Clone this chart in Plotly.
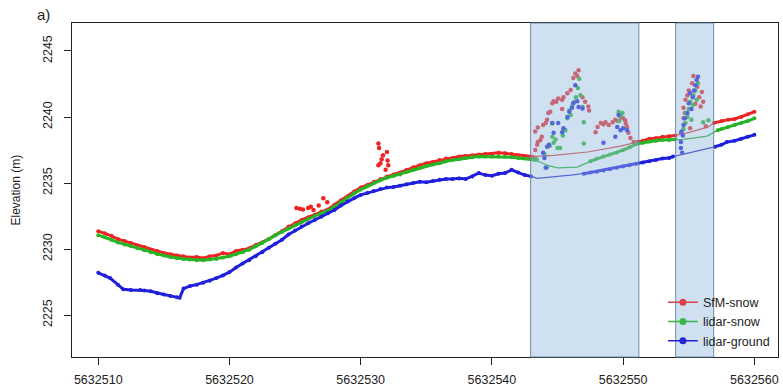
import plotly.graph_objects as go

# Easting origin; all x values below are offsets (m) from it
E0 = 5632510.0

# ---------------- SfM-snow ----------------
sfm_profile = [
    [(0.0, 2231.35), (0.5, 2231.2), (1.0, 2231.0), (1.5, 2230.75), (2.0, 2230.6), (2.5, 2230.45),
     (3.0, 2230.25), (3.5, 2230.15), (4.0, 2229.95), (4.5, 2229.85), (5.0, 2229.7), (5.5, 2229.6),
     (6.0, 2229.5), (6.5, 2229.45), (7.0, 2229.35), (7.5, 2229.4), (8.0, 2229.3), (8.5, 2229.45),
     (9.0, 2229.5), (9.5, 2229.7), (10.0, 2229.6), (10.5, 2229.85), (11.0, 2229.95), (11.5, 2230.05),
     (12.0, 2230.3), (12.5, 2230.5), (13.0, 2230.75), (13.5, 2231.05), (14.0, 2231.35), (14.5, 2231.7),
     (15.0, 2231.95), (15.5, 2232.2), (16.0, 2232.4), (16.5, 2232.6), (17.0, 2232.85), (17.5, 2233.0),
     (18.0, 2233.35), (18.5, 2233.7), (19.0, 2234.0), (19.5, 2234.35), (20.0, 2234.65), (20.5, 2234.85),
     (21.0, 2235.1), (21.5, 2235.3), (22.0, 2235.5), (22.5, 2235.65), (23.0, 2235.8), (23.5, 2236.0),
     (24.0, 2236.2), (24.5, 2236.35), (25.0, 2236.5), (25.5, 2236.6), (26.0, 2236.75), (26.5, 2236.85),
     (27.0, 2236.9), (27.5, 2237.0), (28.0, 2237.05), (28.5, 2237.1), (29.0, 2237.15), (29.5, 2237.2),
     (30.0, 2237.2), (30.5, 2237.3), (31.0, 2237.25), (31.5, 2237.2), (32.0, 2237.1), (32.5, 2237.05),
     (33.0, 2237.0)],
    [(41.2, 2238.1), (41.5, 2238.2), (42.0, 2238.35), (42.5, 2238.4), (43.0, 2238.5), (43.5, 2238.55),
     (44.0, 2238.6)],
    [(46.9, 2239.55), (47.5, 2239.7), (48.0, 2239.8), (48.5, 2239.85), (49.0, 2240.0), (49.5, 2240.2),
     (50.0, 2240.4)],
]
sfm_line_nodes = [(34.7, 2237.1), (37.3, 2237.35), (39.8, 2237.8), (45.1, 2238.85), (46.5, 2239.25)]
sfm_outliers = [
    (15.1, 2233.1), (15.35, 2233.05), (15.6, 2233.0), (16.0, 2233.1), (16.2, 2233.2), (16.4, 2232.95),
    (16.8, 2233.3), (17.15, 2233.85), (17.45, 2233.55),
    (21.35, 2238.0), (21.4, 2237.65), (22.0, 2237.35), (21.7, 2237.1), (21.5, 2236.5), (21.35, 2236.35),
    (22.1, 2236.35), (21.9, 2236.0), (21.6, 2236.8), (22.05, 2236.7),
    (33.15, 2236.95), (33.3, 2237.5), (33.45, 2237.9), (33.5, 2238.1), (33.3, 2238.9), (33.5, 2239.2),
    (33.7, 2238.25), (33.8, 2238.5), (33.9, 2239.4), (34.1, 2239.55), (34.2, 2239.8), (34.3, 2240.3),
    (34.45, 2240.4), (34.6, 2241.05), (34.7, 2241.2), (34.9, 2241.15), (35.05, 2241.4), (35.35, 2241.3),
    (35.45, 2241.5), (35.75, 2241.8), (36.0, 2242.05), (36.2, 2242.95), (36.35, 2243.3), (36.6, 2243.55),
    (36.5, 2243.1), (36.9, 2241.5), (37.1, 2241.15), (37.35, 2240.8), (37.4, 2240.5), (35.35, 2240.6),
    (37.9, 2238.85), (38.05, 2239.25), (38.3, 2239.55), (38.5, 2239.45), (38.65, 2239.6), (38.9, 2239.4),
    (39.2, 2239.6), (39.4, 2239.8), (39.6, 2239.7), (39.8, 2240.0), (40.0, 2239.9), (40.15, 2239.75),
    (40.2, 2239.5), (40.3, 2239.25), (40.4, 2238.8), (40.55, 2238.4), (40.8, 2238.1), (41.1, 2238.1),
    (45.35, 2243.1), (45.25, 2242.55), (44.9, 2241.65), (44.75, 2241.3), (44.6, 2240.7), (44.6, 2239.9),
    (46.0, 2241.9), (46.1, 2241.15), (45.65, 2242.3), (45.1, 2239.15), (44.4, 2238.8), (45.5, 2241.0),
    (45.8, 2241.5), (45.0, 2242.0), (44.7, 2240.3), (46.3, 2239.3), (45.9, 2240.8),
]

# ---------------- lidar-snow ----------------
snow_profile = [
    [(0.0, 2231.05), (0.5, 2230.9), (1.0, 2230.7), (1.5, 2230.5), (2.0, 2230.35), (2.5, 2230.2),
     (3.0, 2230.05), (3.5, 2229.9), (4.0, 2229.75), (4.5, 2229.6), (5.0, 2229.5), (5.5, 2229.4),
     (6.0, 2229.3), (6.5, 2229.25), (7.0, 2229.2), (7.5, 2229.15), (8.0, 2229.15), (8.5, 2229.2),
     (9.0, 2229.25), (9.5, 2229.35), (10.0, 2229.45), (10.5, 2229.6), (11.0, 2229.75), (11.5, 2229.95),
     (12.0, 2230.2), (12.5, 2230.45), (13.0, 2230.75), (13.5, 2231.05), (14.0, 2231.3), (14.5, 2231.55),
     (15.0, 2231.8), (15.5, 2232.05), (16.0, 2232.3), (16.5, 2232.5), (17.0, 2232.7), (17.5, 2232.9),
     (18.0, 2233.2), (18.5, 2233.55), (19.0, 2233.9), (19.5, 2234.2), (20.0, 2234.5), (20.5, 2234.75),
     (21.0, 2235.0), (21.5, 2235.2), (22.0, 2235.4), (22.5, 2235.55), (23.0, 2235.65), (23.5, 2235.85),
     (24.0, 2236.0), (24.5, 2236.15), (25.0, 2236.3), (25.5, 2236.4), (26.0, 2236.5), (26.5, 2236.65),
     (27.0, 2236.75), (27.5, 2236.8), (28.0, 2236.9), (28.5, 2236.95), (29.0, 2237.0), (29.5, 2237.0),
     (30.0, 2237.0), (30.5, 2237.0), (31.0, 2237.0), (31.5, 2236.95), (32.0, 2236.9), (32.5, 2236.85),
     (33.0, 2236.8), (33.3, 2236.75)],
    [(37.5, 2236.65), (38.0, 2236.85), (38.5, 2237.0), (39.0, 2237.15), (39.5, 2237.3), (40.0, 2237.5),
     (40.5, 2237.7), (41.0, 2237.95), (41.5, 2238.05), (42.0, 2238.15), (42.5, 2238.2), (43.0, 2238.25),
     (43.5, 2238.25), (44.0, 2238.3)],
    [(47.2, 2239.0), (47.5, 2239.1), (48.0, 2239.25), (48.5, 2239.4), (49.0, 2239.55), (49.5, 2239.7),
     (50.0, 2239.9)],
]
snow_line_nodes = [(34.2, 2236.35), (35.0, 2236.15), (36.5, 2236.2), (44.6, 2238.3), (46.4, 2238.55),
                   (46.9, 2238.85)]
snow_outliers = [
    (33.4, 2236.8), (34.2, 2236.2), (34.0, 2237.2), (34.4, 2237.8), (34.6, 2238.5), (34.6, 2239.5),
    (34.7, 2238.05), (34.85, 2238.3), (35.0, 2237.65), (35.2, 2237.65), (35.4, 2238.6), (35.6, 2239.0),
    (35.75, 2239.9), (35.9, 2240.5), (36.0, 2240.15), (36.1, 2240.8), (36.2, 2241.05), (36.3, 2241.15),
    (36.4, 2241.5), (36.55, 2242.2), (36.65, 2242.9), (36.75, 2241.65), (36.9, 2240.75), (37.0, 2239.6),
    (37.0, 2238.0), (39.65, 2240.4), (39.95, 2240.3), (39.8, 2240.1), (39.7, 2239.7),
    (45.7, 2242.55), (45.35, 2241.65), (45.1, 2241.15), (45.0, 2240.6), (44.9, 2240.0), (44.75, 2239.55),
    (44.6, 2239.1), (46.1, 2239.6), (46.5, 2239.75), (45.3, 2240.9), (44.8, 2240.3), (45.5, 2242.0),
    (45.6, 2241.3), (45.2, 2239.8),
]

# ---------------- lidar-ground ----------------
ground_profile = [
    [(0.0, 2228.2), (0.5, 2228.0), (0.9, 2227.8), (1.5, 2227.3), (1.9, 2226.95), (2.5, 2226.9),
     (3.2, 2226.9), (3.5, 2226.85), (4.0, 2226.8), (4.5, 2226.65), (5.0, 2226.55), (5.5, 2226.45),
     (6.0, 2226.35), (6.2, 2226.3), (6.5, 2227.0), (7.0, 2227.2), (7.5, 2227.3), (8.0, 2227.45),
     (8.5, 2227.6), (9.0, 2227.8), (9.5, 2228.0), (10.0, 2228.25), (10.5, 2228.6), (11.0, 2228.9),
     (11.5, 2229.15), (12.0, 2229.45), (12.5, 2229.75), (13.0, 2230.1), (13.5, 2230.4), (14.0, 2230.7),
     (14.5, 2231.1), (15.0, 2231.4), (15.5, 2231.7), (16.0, 2231.95), (16.5, 2232.2), (17.0, 2232.45),
     (17.5, 2232.7), (18.0, 2232.95), (18.5, 2233.3), (19.0, 2233.6), (19.5, 2233.85), (20.0, 2234.1),
     (20.5, 2234.25), (21.0, 2234.4), (21.5, 2234.55), (22.0, 2234.65), (22.5, 2234.7), (23.0, 2234.8),
     (23.5, 2234.9), (24.0, 2235.0), (24.5, 2235.1), (25.0, 2235.05), (25.5, 2235.15), (26.0, 2235.25),
     (26.5, 2235.3), (27.0, 2235.3), (27.5, 2235.35), (28.0, 2235.3), (28.5, 2235.5), (29.0, 2235.75),
     (29.5, 2235.6), (30.0, 2235.55), (30.5, 2235.7), (31.0, 2235.75), (31.5, 2236.0), (32.0, 2235.8),
     (32.5, 2235.6), (33.0, 2235.5)],
    [(37.0, 2235.7), (37.5, 2235.8), (38.0, 2235.85), (38.5, 2235.95), (39.0, 2236.05), (39.5, 2236.15),
     (40.0, 2236.25), (40.5, 2236.35), (41.0, 2236.45), (41.5, 2236.55), (42.0, 2236.65), (42.5, 2236.75),
     (43.0, 2236.85), (43.5, 2236.9), (43.8, 2237.0)],
    [(47.0, 2237.75), (47.5, 2237.9), (47.9, 2238.1), (48.5, 2238.2), (49.0, 2238.35), (49.5, 2238.5),
     (50.0, 2238.65)],
]
ground_line_nodes = [(33.45, 2235.35), (36.0, 2235.6), (46.8, 2237.7)]
ground_outliers = [
    (33.9, 2237.3), (34.0, 2236.9), (34.1, 2236.15), (34.2, 2237.75), (34.35, 2237.9), (34.6, 2239.55),
    (34.7, 2238.8), (35.05, 2239.55), (35.35, 2238.85), (35.45, 2239.15), (35.75, 2240.0), (35.9, 2240.4),
    (36.1, 2240.7), (36.2, 2241.05), (36.35, 2242.4), (36.5, 2241.2), (36.6, 2240.75), (36.9, 2240.65),
    (38.5, 2238.05), (39.4, 2238.5), (39.55, 2239.25), (39.65, 2240.15), (39.8, 2239.0), (40.0, 2239.15),
    (40.3, 2239.0),
    (44.4, 2237.65), (44.5, 2237.3), (44.4, 2238.1), (44.45, 2238.9), (44.55, 2238.6), (44.6, 2239.4),
    (44.7, 2239.9), (44.9, 2240.3), (45.0, 2241.05), (45.2, 2240.6), (45.1, 2241.8), (45.3, 2241.5),
    (45.4, 2242.0), (45.5, 2242.4), (45.6, 2242.8), (45.7, 2243.05),
]

# shaded regions (offsets)
regions = [(32.95, 41.2), (44.0, 46.9)]

series = [
    ("SfM-snow", sfm_profile, sfm_line_nodes, sfm_outliers, "#ee2424", "#d83535", "#d8404c"),
    ("lidar-snow", snow_profile, snow_line_nodes, snow_outliers, "#25b525", "#22aa22", "#38b848"),
    ("lidar-ground", ground_profile, ground_line_nodes, ground_outliers, "#1f1fdc", "#2323cc", "#2424d4"),
]

fig = go.Figure()
for name, prof, nodes, outl, col, lcol, legcol in series:
    pts = sorted([p for seg in prof for p in seg] + nodes)
    fig.add_trace(go.Scatter(x=[E0 + p[0] for p in pts], y=[p[1] for p in pts], mode="lines",
                             line=dict(color=lcol, width=1.2), showlegend=False, hoverinfo="skip"))
for name, prof, nodes, outl, col, lcol, legcol in series:
    xs, ys = [], []
    for seg in prof:
        xs += [E0 + p[0] for p in seg] + [None]
        ys += [p[1] for p in seg] + [None]
    fig.add_trace(go.Scatter(x=xs, y=ys, mode="lines+markers", line=dict(color=col, width=3),
                             marker=dict(color=col, size=4), showlegend=False, connectgaps=False))
    fig.add_trace(go.Scatter(x=[E0 + p[0] for p in outl], y=[p[1] for p in outl], mode="markers",
                             marker=dict(color=col, size=4.5), showlegend=False))
for name, prof, nodes, outl, col, lcol, legcol in series:
    fig.add_trace(go.Scatter(x=[None], y=[None], mode="lines+markers", name=name,
                             line=dict(color=legcol, width=1.5), marker=dict(color=legcol, size=7)))

for a, b in regions:
    fig.add_shape(type="rect", xref="x", yref="paper", x0=E0 + a, x1=E0 + b, y0=0, y1=1,
                  fillcolor="rgba(148,186,224,0.45)", line=dict(color="rgba(100,130,160,0.9)", width=1),
                  layer="above")

fig.add_annotation(text="a)", xref="paper", yref="paper", x=-0.041, y=1.024, showarrow=False,
                   font=dict(size=15, color="#222"), xanchor="center", yanchor="middle")
fig.add_annotation(text="Elevation (m)", xref="paper", yref="paper", x=-0.08, y=0.5, showarrow=False,
                   textangle=-90, font=dict(size=12, color="#222"), xanchor="center", yanchor="middle")

fig.update_layout(
    width=783, height=392, margin=dict(l=72, r=5, t=23, b=35, autoexpand=False),
    paper_bgcolor="white", plot_bgcolor="white",
    font=dict(family="Liberation Sans, Arial, sans-serif", size=12.5, color="#222"),
    showlegend=True,
    legend=dict(x=0.837, y=0.004, xanchor="left", yanchor="bottom", bgcolor="rgba(0,0,0,0)",
                font=dict(size=12.5), tracegroupgap=0, itemwidth=30),
    xaxis=dict(range=[5632508.0, 5632561.8], tickmode="array", automargin=False,
               tickvals=[5632510, 5632520, 5632530, 5632540, 5632550, 5632560],
               ticktext=["5632510", "5632520", "5632530", "5632540", "5632550", "5632560"],
               showgrid=False, zeroline=False, showline=True, mirror=True, linecolor="#222", linewidth=1,
               ticks="outside", ticklen=7, tickcolor="#222", tickfont=dict(size=12.5),
               ticklabelstandoff=4),
    yaxis=dict(range=[2221.82, 2247.12], tickmode="array", tickvals=[2225, 2230, 2235, 2240, 2245],
               ticktext=["2225", "2230", "2235", "2240", "2245"], tickangle=-90, automargin=False,
               showgrid=False, zeroline=False, showline=True, mirror=True, linecolor="#222", linewidth=1,
               ticks="outside", ticklen=7, tickcolor="#222", tickfont=dict(size=12.5),
               ticklabelstandoff=7),
)

fig.write_html("out.html", config={"displayModeBar": False},
               post_script="document.body.style.margin='0';")
